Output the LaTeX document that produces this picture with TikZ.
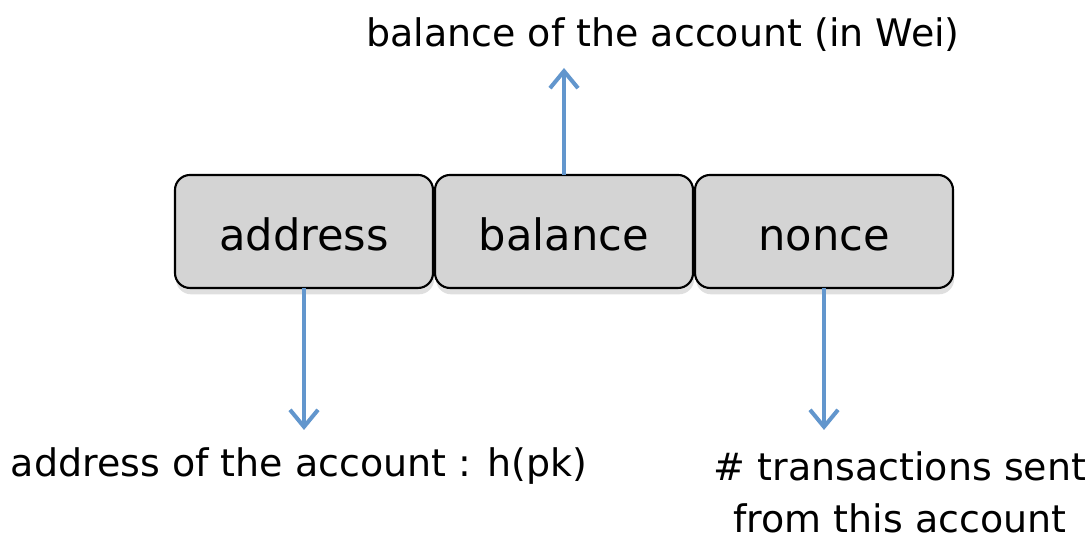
\documentclass[tikz,border=0pt]{standalone}
\usepackage{fontspec}
\setmainfont{DejaVu Sans}
\usepackage{tikz}
\usetikzlibrary{arrows.meta,positioning,shadows}
\definecolor{plava}{RGB}{98,150,205}
\definecolor{sivo}{RGB}{212,212,212}
\tikzset{field/.style={draw=black, line width=0.6pt, fill=sivo, rounded corners=0.15cm,
    minimum width=2.58cm, minimum height=1.13cm, inner sep=0pt, outer sep=0pt,
    text height=2.0ex, text depth=0ex,
    font=\fontsize{12.3}{14.8}\selectfont,
    drop shadow={opacity=0.25, shadow xshift=0.3pt, shadow yshift=-1.8pt}}}
\tikzset{pointer1/.style={plava, line width=1.15pt,
    -{Straight Barb[length=1.7mm, width=2.8mm, line width=1.15pt]}}}
\tikzset{opis/.style={align=center, inner sep=0pt, font=\fontsize{10.8}{14.8}\selectfont}}

\begin{document}
\begin{tikzpicture}
    \useasboundingbox (0, 0) rectangle (10.92, 5.41);

    %polja
    \node[field] (addr) at (3.04, 3.095) {address};
    \node[field, right=0.02cm of addr] (bal) {balance};
    \node[field, right=0.02cm of bal] (nonce) {nonce};

    %opisi
    \node[opis] (balDesc) at (6.63, 5.06) {balance of the account (in Wei)};
    \node[opis] (addrDesc) at (2.99, 0.75) {address of the account : h(pk)};
    \node[opis] (nonceDesc) at (9.0, 0.49) {\# transactions sent\\from this account};

    %vrhovi strelica
    \coordinate[above=1.07cm of bal.north] (balTip);
    \coordinate[below=1.42cm of addr.south] (addrTip);
    \coordinate[below=1.42cm of nonce.south] (nonceTip);

    %strelice
    \draw[pointer1] (bal.north) -- (balTip);
    \draw[pointer1] (addr.south) -- (addrTip);
    \draw[pointer1] (nonce.south) -- (nonceTip);
\end{tikzpicture}
\end{document}
